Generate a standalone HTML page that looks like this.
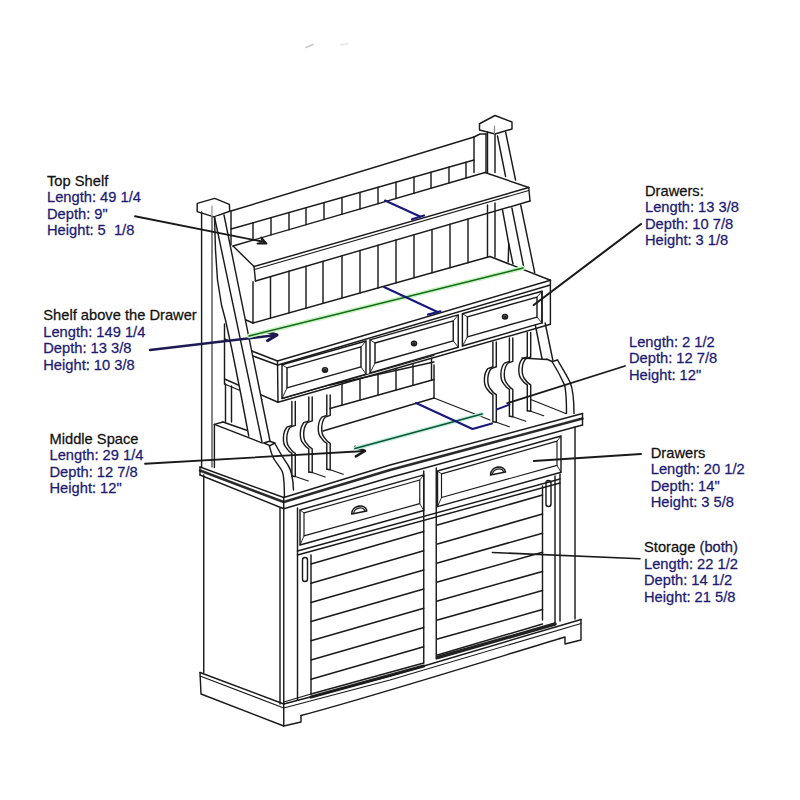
<!DOCTYPE html><html><head><meta charset="utf-8"><style>html,body{margin:0;padding:0;background:#fff;width:800px;height:800px;overflow:hidden}svg{display:block}text{font-family:"Liberation Sans",sans-serif;font-size:14px;white-space:pre}</style></head><body>
<svg width="800" height="800" viewBox="0 0 800 800"><rect width="800" height="800" fill="#fff"/>
<g fill="none" stroke-linecap="round" stroke-linejoin="round">
<polyline points="197.2,211.6 197.2,203.4 214.7,198.4 229.4,204.4 229.7,211.25 214,216.9 197.2,211.6" stroke="#1a1a1a" stroke-width="1.43"/>
<polyline points="212,206 212,217" stroke="#9a9a9a" stroke-width="1.3"/>
<polyline points="212,217 212,467" stroke="#555" stroke-width="1.43"/>
<polyline points="201.6,212 201.6,467" stroke="#1a1a1a" stroke-width="1.43"/>
<polyline points="224.5,324 224.5,384" stroke="#1a1a1a" stroke-width="1.43"/>
<polyline points="224.5,339 253,351.5" stroke="#1a1a1a" stroke-width="1.43"/>
<polyline points="224.5,379 278,402.25" stroke="#1a1a1a" stroke-width="1.43"/>
<polyline points="224.5,384 262,399.5" stroke="#1a1a1a" stroke-width="1.17"/>
<polyline points="225.5,384 225.5,422" stroke="#1a1a1a" stroke-width="1.43"/>
<polyline points="231.5,386 231.5,422" stroke="#1a1a1a" stroke-width="1.43"/>
<polyline points="214.4,424.4 223,422" stroke="#1a1a1a" stroke-width="1.43"/>
<polyline points="214.4,424.4 262.5,443" stroke="#1a1a1a" stroke-width="1.43"/>
<polyline points="223,422 248.75,431" stroke="#1a1a1a" stroke-width="1.43"/>
<polyline points="214.4,424.4 214.4,467.5" stroke="#1a1a1a" stroke-width="1.43"/>
<polyline points="231,211 474,137" stroke="#1a1a1a" stroke-width="1.43"/>
<polyline points="231,229 474,160" stroke="#1a1a1a" stroke-width="1.43"/>
<polyline points="231,211 231,245" stroke="#1a1a1a" stroke-width="1.43"/>
<polyline points="474,137 474,172.5" stroke="#1a1a1a" stroke-width="1.43"/>
<polyline points="486,134 486,172.5" stroke="#1a1a1a" stroke-width="1.43"/>
<polyline points="474,137 480,134 486,134" stroke="#1a1a1a" stroke-width="1.43"/>
<polyline points="253,222.75 253,240.17" stroke="#1a1a1a" stroke-width="1.43"/>
<polyline points="271,217.64 271,234.92" stroke="#1a1a1a" stroke-width="1.43"/>
<polyline points="289,212.53 289,229.67" stroke="#1a1a1a" stroke-width="1.43"/>
<polyline points="306,207.7 306,224.71" stroke="#1a1a1a" stroke-width="1.43"/>
<polyline points="324,202.59 324,219.46" stroke="#1a1a1a" stroke-width="1.43"/>
<polyline points="342,197.48 342,214.21" stroke="#1a1a1a" stroke-width="1.43"/>
<polyline points="360,192.37 360,208.96" stroke="#1a1a1a" stroke-width="1.43"/>
<polyline points="378,187.26 378,203.71" stroke="#1a1a1a" stroke-width="1.43"/>
<polyline points="396,182.15 396,198.46" stroke="#1a1a1a" stroke-width="1.43"/>
<polyline points="414,177.04 414,193.21" stroke="#1a1a1a" stroke-width="1.43"/>
<polyline points="431,172.21 431,188.25" stroke="#1a1a1a" stroke-width="1.43"/>
<polyline points="449,167.1 449,183" stroke="#1a1a1a" stroke-width="1.43"/>
<polyline points="466,162.27 466,178.04" stroke="#1a1a1a" stroke-width="1.43"/>
<polyline points="233,246 485,172.5" stroke="#1a1a1a" stroke-width="1.43"/>
<polyline points="233,246 254,266.5" stroke="#1a1a1a" stroke-width="1.43"/>
<polyline points="485,172.5 528.75,187.5" stroke="#1a1a1a" stroke-width="1.43"/>
<polyline points="254,266.5 528.75,187.5" stroke="#1a1a1a" stroke-width="1.43"/>
<polyline points="254.5,269.5 528.75,190.5" stroke="#1a1a1a" stroke-width="1.04"/>
<polyline points="255.5,281 530,201" stroke="#1a1a1a" stroke-width="1.43"/>
<polyline points="254,266.5 255.5,281" stroke="#1a1a1a" stroke-width="1.43"/>
<polyline points="528.75,187.5 530,201" stroke="#1a1a1a" stroke-width="1.43"/>
<polyline points="253,281.73 253,323" stroke="#1a1a1a" stroke-width="1.43"/>
<polyline points="270.5,276.63 270.5,318.09" stroke="#1a1a1a" stroke-width="1.43"/>
<polyline points="289,271.24 289,312.9" stroke="#1a1a1a" stroke-width="1.43"/>
<polyline points="306,266.28 306,308.13" stroke="#1a1a1a" stroke-width="1.43"/>
<polyline points="323,261.33 323,303.36" stroke="#1a1a1a" stroke-width="1.43"/>
<polyline points="342,255.79 342,298.03" stroke="#1a1a1a" stroke-width="1.43"/>
<polyline points="360,250.54 360,292.98" stroke="#1a1a1a" stroke-width="1.43"/>
<polyline points="378,245.3 378,287.93" stroke="#1a1a1a" stroke-width="1.43"/>
<polyline points="396,240.05 396,282.88" stroke="#1a1a1a" stroke-width="1.43"/>
<polyline points="414,234.81 414,277.82" stroke="#1a1a1a" stroke-width="1.43"/>
<polyline points="432,229.56 432,272.77" stroke="#1a1a1a" stroke-width="1.43"/>
<polyline points="450,224.32 450,267.72" stroke="#1a1a1a" stroke-width="1.43"/>
<polyline points="468,219.07 468,262.67" stroke="#1a1a1a" stroke-width="1.43"/>
<polyline points="246,320 253,323" stroke="#1a1a1a" stroke-width="1.43"/>
<polyline points="479.5,130 479.5,123.75 495,115.5 512,122 512,129 495,134 479.5,130" stroke="#1a1a1a" stroke-width="1.43"/>
<polyline points="487.5,132 487.5,172.5" stroke="#1a1a1a" stroke-width="1.43"/>
<polyline points="495,134 495,172.5" stroke="#1a1a1a" stroke-width="1.43"/>
<polyline points="487.5,205 487.5,257" stroke="#1a1a1a" stroke-width="1.43"/>
<polyline points="495,203 495,257" stroke="#1a1a1a" stroke-width="1.43"/>
<polyline points="497.5,136 505.6,176.5" stroke="#1a1a1a" stroke-width="1.43"/>
<polyline points="505.6,132 515.54,180" stroke="#1a1a1a" stroke-width="1.43"/>
<polyline points="511.9,208 523.8,267.5" stroke="#1a1a1a" stroke-width="1.43"/>
<polyline points="520.71,205 534.68,272.5" stroke="#1a1a1a" stroke-width="1.43"/>
<polyline points="502.5,210 508.75,243.75 513,264" stroke="#1a1a1a" stroke-width="1.43"/>
<polyline points="508.75,243.75 508.2,262" stroke="#1a1a1a" stroke-width="1.43"/>
<polyline points="494.5,126 494.5,134" stroke="#888" stroke-width="1.17"/>
<polyline points="253,323 490,256.5" stroke="#1a1a1a" stroke-width="1.43"/>
<polyline points="490,256.5 550.4,280.25" stroke="#1a1a1a" stroke-width="1.43"/>
<polyline points="253,351.5 277.5,361" stroke="#1a1a1a" stroke-width="1.43"/>
<polyline points="277.5,361 550.4,280.25" stroke="#1a1a1a" stroke-width="1.43"/>
<polyline points="278,365 550.4,285" stroke="#1a1a1a" stroke-width="1.43"/>
<polyline points="253,356 277.5,365" stroke="#1a1a1a" stroke-width="1.43"/>
<polyline points="550.4,280.25 550.4,324.25" stroke="#1a1a1a" stroke-width="1.43"/>
<polyline points="282,364.75 366,341 366,374.08 282,398.5 282,364.75" stroke="#1a1a1a" stroke-width="1.43"/>
<polyline points="287,367.84 361,346.92 361,366.92 287,387.84 287,367.84" stroke="#1a1a1a" stroke-width="1.43"/>
<polyline points="282,364.75 287,367.84" stroke="#1a1a1a" stroke-width="0.91"/>
<polyline points="366,341 361,346.92" stroke="#1a1a1a" stroke-width="0.91"/>
<polyline points="282,398.5 287,387.84" stroke="#1a1a1a" stroke-width="0.91"/>
<polyline points="366,374.08 361,366.92" stroke="#1a1a1a" stroke-width="0.91"/>
<polyline points="370,339.87 458.25,314.93 458.25,347.25 370,372.91 370,339.87" stroke="#1a1a1a" stroke-width="1.43"/>
<polyline points="375,342.96 453.25,320.84 453.25,340.84 375,362.96 375,342.96" stroke="#1a1a1a" stroke-width="1.43"/>
<polyline points="370,339.87 375,342.96" stroke="#1a1a1a" stroke-width="0.91"/>
<polyline points="458.25,314.93 453.25,320.84" stroke="#1a1a1a" stroke-width="0.91"/>
<polyline points="370,372.91 375,362.96" stroke="#1a1a1a" stroke-width="0.91"/>
<polyline points="458.25,347.25 453.25,340.84" stroke="#1a1a1a" stroke-width="0.91"/>
<polyline points="462.4,313.75 542,291.25 542,322.9 462.4,346.05 462.4,313.75" stroke="#1a1a1a" stroke-width="1.43"/>
<polyline points="467.4,316.84 537,297.16 537,317.16 467.4,336.84 467.4,316.84" stroke="#1a1a1a" stroke-width="1.43"/>
<polyline points="462.4,313.75 467.4,316.84" stroke="#1a1a1a" stroke-width="0.91"/>
<polyline points="542,291.25 537,297.16" stroke="#1a1a1a" stroke-width="0.91"/>
<polyline points="462.4,346.05 467.4,336.84" stroke="#1a1a1a" stroke-width="0.91"/>
<polyline points="542,322.9 537,317.16" stroke="#1a1a1a" stroke-width="0.91"/>
<polyline points="278,402.25 550.4,324.25" stroke="#1a1a1a" stroke-width="1.43"/>
<polyline points="277.5,361 278,402.25" stroke="#1a1a1a" stroke-width="1.43"/>
<polyline points="542,291.25 542,323" stroke="#1a1a1a" stroke-width="1.43"/>
<path d="M322.5,370 a2.5,2.2 0 1,0 5,0 a2.5,2.2 0 1,0 -5,0" stroke="#1a1a1a" stroke-width="1.56" fill="none"/>
<path d="M323.7,370.3 a1.3,1.2 0 1,0 2.6,0 a1.3,1.2 0 1,0 -2.6,0" stroke="#1a1a1a" stroke-width="1.04" fill="#333"/>
<path d="M411.5,343.5 a2.5,2.2 0 1,0 5,0 a2.5,2.2 0 1,0 -5,0" stroke="#1a1a1a" stroke-width="1.56" fill="none"/>
<path d="M412.7,343.8 a1.3,1.2 0 1,0 2.6,0 a1.3,1.2 0 1,0 -2.6,0" stroke="#1a1a1a" stroke-width="1.04" fill="#333"/>
<path d="M502.5,316.8 a2.5,2.2 0 1,0 5,0 a2.5,2.2 0 1,0 -5,0" stroke="#1a1a1a" stroke-width="1.56" fill="none"/>
<path d="M503.7,317.1 a1.3,1.2 0 1,0 2.6,0 a1.3,1.2 0 1,0 -2.6,0" stroke="#1a1a1a" stroke-width="1.04" fill="#333"/>
<path d="M291.9,401.5 L291.9,425.4 L286.9,427.2 C282.4,432.4 282.4,443.4 285.9,447.4 C287.9,450.4 289.9,452.4 291.9,453.4 L291.9,476" stroke="#1a1a1a" stroke-width="1.43" fill="none"/>
<path d="M295.29999999999995,401.5 L295.29999999999995,425.4 L290.29999999999995,427.2 C285.79999999999995,432.4 285.79999999999995,443.4 289.29999999999995,447.4 C291.29999999999995,450.4 293.29999999999995,452.4 295.29999999999995,453.4 L295.29999999999995,476" stroke="#1a1a1a" stroke-width="1.43" fill="none"/>
<polyline points="291.9,476 295.3,476.5" stroke="#1a1a1a" stroke-width="1.43"/>
<polyline points="295.3,476.5 308.3,481" stroke="#1a1a1a" stroke-width="1.17"/>
<path d="M308.8,397 L308.8,420.9 L303.8,422.7 C299.3,427.9 299.3,438.9 302.8,442.9 C304.8,445.9 306.8,447.9 308.8,448.9 L308.8,472" stroke="#1a1a1a" stroke-width="1.43" fill="none"/>
<path d="M312.2,397 L312.2,420.9 L307.2,422.7 C302.7,427.9 302.7,438.9 306.2,442.9 C308.2,445.9 310.2,447.9 312.2,448.9 L312.2,472" stroke="#1a1a1a" stroke-width="1.43" fill="none"/>
<polyline points="308.8,472 312.2,472.5" stroke="#1a1a1a" stroke-width="1.43"/>
<polyline points="312.2,472.5 325.2,477" stroke="#1a1a1a" stroke-width="1.17"/>
<path d="M326.8,395 L326.8,415.3 L321.8,417.1 C317.3,422.3 317.3,433.3 320.8,437.3 C322.8,440.3 324.8,442.3 326.8,443.3 L326.8,469.3" stroke="#1a1a1a" stroke-width="1.43" fill="none"/>
<path d="M330.2,395 L330.2,415.3 L325.2,417.1 C320.7,422.3 320.7,433.3 324.2,437.3 C326.2,440.3 328.2,442.3 330.2,443.3 L330.2,469.3" stroke="#1a1a1a" stroke-width="1.43" fill="none"/>
<polyline points="326.8,469.3 330.2,469.8" stroke="#1a1a1a" stroke-width="1.43"/>
<polyline points="330.2,469.8 343.2,474.3" stroke="#1a1a1a" stroke-width="1.17"/>
<path d="M492.9,342 L492.9,366.75 L487.9,368.55 C483.4,373.75 483.4,384.75 486.9,388.75 C488.9,391.75 490.9,393.75 492.9,394.75 L492.9,421.8" stroke="#1a1a1a" stroke-width="1.43" fill="none"/>
<path d="M496.29999999999995,342 L496.29999999999995,366.75 L491.29999999999995,368.55 C486.79999999999995,373.75 486.79999999999995,384.75 490.29999999999995,388.75 C492.29999999999995,391.75 494.29999999999995,393.75 496.29999999999995,394.75 L496.29999999999995,421.8" stroke="#1a1a1a" stroke-width="1.43" fill="none"/>
<polyline points="492.9,421.8 496.3,422.3" stroke="#1a1a1a" stroke-width="1.43"/>
<polyline points="496.3,422.3 509.3,426.8" stroke="#1a1a1a" stroke-width="1.17"/>
<path d="M509.4,338 L509.4,361.3 L504.4,363.1 C499.9,368.3 499.9,379.3 503.4,383.3 C505.4,386.3 507.4,388.3 509.4,389.3 L509.4,416.3" stroke="#1a1a1a" stroke-width="1.43" fill="none"/>
<path d="M512.8,338 L512.8,361.3 L507.79999999999995,363.1 C503.29999999999995,368.3 503.29999999999995,379.3 506.79999999999995,383.3 C508.79999999999995,386.3 510.79999999999995,388.3 512.8,389.3 L512.8,416.3" stroke="#1a1a1a" stroke-width="1.43" fill="none"/>
<polyline points="509.4,416.3 512.8,416.8" stroke="#1a1a1a" stroke-width="1.43"/>
<polyline points="512.8,416.8 525.8,421.3" stroke="#1a1a1a" stroke-width="1.17"/>
<path d="M527.3,332.4 L527.3,357 L522.3,358.8 C517.8,364 517.8,375 521.3,379 C523.3,382 525.3,384 527.3,385 L527.3,410.8" stroke="#1a1a1a" stroke-width="1.43" fill="none"/>
<path d="M530.6999999999999,332.4 L530.6999999999999,357 L525.6999999999999,358.8 C521.1999999999999,364 521.1999999999999,375 524.6999999999999,379 C526.6999999999999,382 528.6999999999999,384 530.6999999999999,385 L530.6999999999999,410.8" stroke="#1a1a1a" stroke-width="1.43" fill="none"/>
<polyline points="527.3,410.8 530.7,411.3" stroke="#1a1a1a" stroke-width="1.43"/>
<polyline points="530.7,411.3 543.7,415.8" stroke="#1a1a1a" stroke-width="1.17"/>
<polyline points="522,358 546.5,359.5" stroke="#1a1a1a" stroke-width="1.43"/>
<polyline points="535.3,325 542.1,359" stroke="#1a1a1a" stroke-width="1.43"/>
<polyline points="545.14,323 552.8,360" stroke="#1a1a1a" stroke-width="1.43"/>
<polyline points="546.5,359 552,361.5 557.5,360" stroke="#1a1a1a" stroke-width="1.43"/>
<path d="M557.5,360 C561,366 566,374 570,382 C573,389 574,396 574,413.5" stroke="#1a1a1a" stroke-width="1.43" fill="none"/>
<path d="M552,361.5 C556,368 561,377 564.4,384.6 C566,390 566.5,396 566.5,413.5" stroke="#1a1a1a" stroke-width="1.43" fill="none"/>
<polyline points="531.4,399.8 565.8,413.5" stroke="#1a1a1a" stroke-width="1.17"/>
<polyline points="282,398.5 434,355.5" stroke="#1a1a1a" stroke-width="1.17"/>
<polyline points="330,385 434,362" stroke="#1a1a1a" stroke-width="1.43"/>
<polyline points="342,383.92 342,405.15" stroke="#1a1a1a" stroke-width="1.43"/>
<polyline points="360,378.77 360,400.13" stroke="#1a1a1a" stroke-width="1.43"/>
<polyline points="378,373.62 378,395.12" stroke="#1a1a1a" stroke-width="1.43"/>
<polyline points="396,368.46 396,390.1" stroke="#1a1a1a" stroke-width="1.43"/>
<polyline points="413,363.59 413,385.36" stroke="#1a1a1a" stroke-width="1.43"/>
<polyline points="431.5,358.3 431.5,380.2" stroke="#1a1a1a" stroke-width="1.43"/>
<polyline points="330,408.5 434,379.5" stroke="#1a1a1a" stroke-width="1.43"/>
<polyline points="323,431 434,398" stroke="#1a1a1a" stroke-width="1.43"/>
<polyline points="434,365 434,398" stroke="#1a1a1a" stroke-width="1.43"/>
<polyline points="434,398 490,420" stroke="#1a1a1a" stroke-width="1.17"/>
<polyline points="200,467 283.75,497.5 390,465 582.5,413.5" stroke="#1a1a1a" stroke-width="1.43"/>
<polyline points="200,470.5 283.75,502 390,470 582.5,418.5" stroke="#2a2a2a" stroke-width="2.47"/>
<polyline points="200,475 283.75,508.75 390,477.5 582.5,425" stroke="#1a1a1a" stroke-width="1.43"/>
<polyline points="200,467 200,475" stroke="#1a1a1a" stroke-width="1.43"/>
<polyline points="283.75,497.5 283.75,508.75" stroke="#1a1a1a" stroke-width="1.43"/>
<polyline points="582.5,413.5 582.5,425" stroke="#1a1a1a" stroke-width="1.43"/>
<polyline points="203.75,475 203.75,672.5" stroke="#1a1a1a" stroke-width="1.43"/>
<polyline points="280,508 280,704" stroke="#1a1a1a" stroke-width="1.43"/>
<polyline points="283.75,508.75 283.75,704" stroke="#1a1a1a" stroke-width="1.43"/>
<polyline points="297.5,508 297.5,700" stroke="#1a1a1a" stroke-width="1.43"/>
<polyline points="555,476 555,622.5" stroke="#1a1a1a" stroke-width="1.43"/>
<polyline points="560,474 560,621" stroke="#1a1a1a" stroke-width="1.43"/>
<polyline points="575,427 575,619" stroke="#1a1a1a" stroke-width="1.43"/>
<polyline points="300,510 423.75,474.92 423.75,510.49 300,545 300,510" stroke="#1a1a1a" stroke-width="1.43"/>
<polyline points="304,512.87 419.75,480.05 419.75,503.61 304,535.88 304,512.87" stroke="#1a1a1a" stroke-width="1.17"/>
<polyline points="300,510 304,512.87" stroke="#1a1a1a" stroke-width="0.91"/>
<polyline points="423.75,474.92 419.75,480.05" stroke="#1a1a1a" stroke-width="0.91"/>
<polyline points="300,545 304,535.88" stroke="#1a1a1a" stroke-width="0.91"/>
<polyline points="423.75,510.49 419.75,503.61" stroke="#1a1a1a" stroke-width="0.91"/>
<polyline points="437.5,471.02 561,436.01 561,472.22 437.5,506.66 437.5,471.02" stroke="#1a1a1a" stroke-width="1.43"/>
<polyline points="441.5,473.89 557,441.14 557,465.34 441.5,497.54 441.5,473.89" stroke="#1a1a1a" stroke-width="1.17"/>
<polyline points="437.5,471.02 441.5,473.89" stroke="#1a1a1a" stroke-width="0.91"/>
<polyline points="561,436.01 557,441.14" stroke="#1a1a1a" stroke-width="0.91"/>
<polyline points="437.5,506.66 441.5,497.54" stroke="#1a1a1a" stroke-width="0.91"/>
<polyline points="561,472.22 557,465.34" stroke="#1a1a1a" stroke-width="0.91"/>
<path d="M351.75,514 C351.75,505 365.75,503 366.75,511 L351.75,514 Z" stroke="#1a1a1a" stroke-width="1.56" fill="none"/>
<path d="M353.75,512.5 C354.75,508 362.75,506 364.75,510.5" stroke="#1a1a1a" stroke-width="1.17" fill="none"/>
<path d="M490.5,475 C490.5,466 504.5,464 505.5,472 L490.5,475 Z" stroke="#1a1a1a" stroke-width="1.56" fill="none"/>
<path d="M492.5,473.5 C493.5,469 501.5,467 503.5,471.5" stroke="#1a1a1a" stroke-width="1.17" fill="none"/>
<polyline points="297.5,551 560,479" stroke="#1a1a1a" stroke-width="1.43"/>
<polyline points="297.5,555 560,483" stroke="#1a1a1a" stroke-width="1.43"/>
<polyline points="423.75,471 423.75,663" stroke="#1a1a1a" stroke-width="1.43"/>
<polyline points="436.25,468 436.25,659" stroke="#1a1a1a" stroke-width="1.43"/>
<polyline points="311,555 311,694" stroke="#1a1a1a" stroke-width="1.43"/>
<polyline points="311,564 423.75,531.5" stroke="#1a1a1a" stroke-width="1.56"/>
<polyline points="311,583.2 423.75,550.7" stroke="#1a1a1a" stroke-width="1.56"/>
<polyline points="311,602.4 423.75,569.9" stroke="#1a1a1a" stroke-width="1.56"/>
<polyline points="311,621.6 423.75,589.1" stroke="#1a1a1a" stroke-width="1.56"/>
<polyline points="311,640.8 423.75,608.3" stroke="#1a1a1a" stroke-width="1.56"/>
<polyline points="311,660 423.75,627.5" stroke="#1a1a1a" stroke-width="1.56"/>
<polyline points="311,679.2 423.75,646.7" stroke="#1a1a1a" stroke-width="1.56"/>
<polyline points="311,694 423.75,663" stroke="#1a1a1a" stroke-width="1.43"/>
<path d="M302.5,560 a2.5,2.5 0 0,1 5,0 L307.5,579 a2.5,2.5 0 0,1 -5,0 Z" stroke="#1a1a1a" stroke-width="1.43" fill="none"/>
<polyline points="437.5,525 542.5,495" stroke="#1a1a1a" stroke-width="1.56"/>
<polyline points="437.5,544 542.5,514.1" stroke="#1a1a1a" stroke-width="1.56"/>
<polyline points="437.5,563 542.5,533.2" stroke="#1a1a1a" stroke-width="1.56"/>
<polyline points="437.5,582 542.5,552.3" stroke="#1a1a1a" stroke-width="1.56"/>
<polyline points="437.5,601 542.5,571.4" stroke="#1a1a1a" stroke-width="1.56"/>
<polyline points="437.5,620 542.5,590.5" stroke="#1a1a1a" stroke-width="1.56"/>
<polyline points="437.5,639 542.5,609.6" stroke="#1a1a1a" stroke-width="1.56"/>
<polyline points="542.5,486 542.5,620" stroke="#1a1a1a" stroke-width="1.43"/>
<polyline points="437.5,655 542.5,624" stroke="#1a1a1a" stroke-width="1.43"/>
<path d="M546,483 a2.5,2.5 0 0,1 5,0 L551,504 a2.5,2.5 0 0,1 -5,0 Z" stroke="#1a1a1a" stroke-width="1.43" fill="none"/>
<polyline points="311,697 423.75,666" stroke="#222" stroke-width="3.12"/>
<polyline points="437.5,657.5 555,624" stroke="#222" stroke-width="3.38"/>
<polyline points="200,672.5 283.75,704 390,676 581,619.5" stroke="#1a1a1a" stroke-width="1.43"/>
<polyline points="311,694 283.75,702" stroke="#1a1a1a" stroke-width="1.17"/>
<polyline points="200,672.5 201,694 283.75,726 283.75,704" stroke="#1a1a1a" stroke-width="1.43"/>
<polyline points="200,676 283.75,708 390,680 581,623.5" stroke="#1a1a1a" stroke-width="1.17"/>
<polyline points="283.75,726 301,722 301,715.5" stroke="#1a1a1a" stroke-width="1.43"/>
<path d="M301,715.5 C360,700 450,672 560,638.5" stroke="#1a1a1a" stroke-width="1.43" fill="none"/>
<polyline points="560,638.5 565,637 565,644 581,640 581,619.5" stroke="#1a1a1a" stroke-width="1.43"/>
<polygon points="214.5,217 215.5,250 217.5,280 221.5,305 225.5,320 232,350 241,395 248.75,436 263.75,443 270,445.6 275,443 270,441 224,215" fill="#fff" stroke="none"/>
<polyline points="214.5,217 262,442" stroke="#1a1a1a" stroke-width="1.43"/>
<polyline points="224,215 270,441" stroke="#1a1a1a" stroke-width="1.43"/>
<polyline points="214.5,217 215.5,250 217.5,280 221.5,305 225.5,320 232,350 241,395 248.75,436" stroke="#1a1a1a" stroke-width="1.43"/>
<polyline points="263.75,443 269.4,441.25 275,443 270,445.6 263.75,443" stroke="#1a1a1a" stroke-width="1.43"/>
<path d="M269.4,446 C271,452 272,456 274,459 C277,464 280,467 282,471 C283.5,474 284.4,480 284.4,497" stroke="#1a1a1a" stroke-width="1.43" fill="none"/>
<path d="M275,443.75 C277,447 278.5,450 280,452.5 C283,458 286,462 288.5,466 C291.5,471 293,476 293.5,490" stroke="#1a1a1a" stroke-width="1.43" fill="none"/>
<polyline points="135,216.25 262,241.5" stroke="#1a1a1a" stroke-width="1.82"/>
<polyline points="257.5,243.6 266.5,243.6 261.3,237.6" stroke="#1a1a1a" stroke-width="1.95"/>
<polyline points="259,243 265,243 261.5,239.5" stroke="#1a1a1a" stroke-width="1.56"/>
<polyline points="150,350 277,335" stroke="#1c1a50" stroke-width="2.34"/>
<polyline points="267.6,340.64 277,335 266.54,331.7" stroke="#1c1a50" stroke-width="2.99"/>
<polyline points="145,463.75 365,451" stroke="#1a1a1a" stroke-width="1.82"/>
<polyline points="355.79,456.34 365,451 355.24,446.76" stroke="#1a1a1a" stroke-width="2.47"/>
<polyline points="641,224 533.75,305" stroke="#1a1a1a" stroke-width="2.08"/>
<polyline points="625,366 507.3,403.2" stroke="#1a1a1a" stroke-width="1.82"/>
<polyline points="641,454 533.75,461" stroke="#1a1a1a" stroke-width="1.82"/>
<polyline points="640,558.75 492.5,552.5" stroke="#1a1a1a" stroke-width="1.69"/>
<polyline points="249,336 523,268" stroke="#c4f4bc" stroke-width="4.42"/>
<polyline points="249,336 523,268" stroke="#14641e" stroke-width="1.56"/>
<polyline points="355,448.5 482,414" stroke="#c4eee0" stroke-width="4.16"/>
<polyline points="355,448.5 482,414" stroke="#0b5636" stroke-width="1.76"/>
<polyline points="385,200.5 420,216.5" stroke="#18187a" stroke-width="2.08"/>
<polyline points="412,219.3 424,215.5" stroke="#18187a" stroke-width="2.21"/>
<polyline points="384,287 437.6,312" stroke="#18187a" stroke-width="2.08"/>
<polyline points="428,314.6 440.4,311.3" stroke="#18187a" stroke-width="2.21"/>
<polyline points="416,403 472.5,429 492,423.5" stroke="#18187a" stroke-width="2.08"/>
<polyline points="497,409.4 509.4,404.6" stroke="#18187a" stroke-width="2.08"/>
<polyline points="306,47.5 313,44.5" stroke="#c8c8c8" stroke-width="1.56"/>
<polyline points="341,45 348,43.5" stroke="#ececec" stroke-width="1.95"/>
</g>
<text x="0" y="0" transform="translate(47,185.85) scale(1.05,1)" fill="#111" stroke="#111" stroke-width="0.25">Top Shelf</text>
<text x="0" y="0" transform="translate(47,202.35) scale(1.05,1)" fill="#1c1a72" stroke="#1c1a72" stroke-width="0.25">Length: 49 1/4</text>
<text x="0" y="0" transform="translate(47,218.85) scale(1.05,1)" fill="#1c1a72" stroke="#1c1a72" stroke-width="0.25">Depth: 9"</text>
<text x="0" y="0" transform="translate(47,235.35) scale(1.05,1)" fill="#1c1a72" stroke="#1c1a72" stroke-width="0.25">Height: 5  1/8</text>
<text x="0" y="0" transform="translate(43.25,320.1) scale(1.05,1)" fill="#111" stroke="#111" stroke-width="0.25">Shelf above the Drawer</text>
<text x="0" y="0" transform="translate(43.25,336.6) scale(1.05,1)" fill="#1c1a72" stroke="#1c1a72" stroke-width="0.25">Length: 149 1/4</text>
<text x="0" y="0" transform="translate(43.25,353.1) scale(1.05,1)" fill="#1c1a72" stroke="#1c1a72" stroke-width="0.25">Depth: 13 3/8</text>
<text x="0" y="0" transform="translate(43.25,369.6) scale(1.05,1)" fill="#1c1a72" stroke="#1c1a72" stroke-width="0.25">Height: 10 3/8</text>
<text x="0" y="0" transform="translate(49.5,443.85) scale(1.05,1)" fill="#111" stroke="#111" stroke-width="0.25">Middle Space</text>
<text x="0" y="0" transform="translate(49.5,460.35) scale(1.05,1)" fill="#1c1a72" stroke="#1c1a72" stroke-width="0.25">Length: 29 1/4</text>
<text x="0" y="0" transform="translate(49.5,476.85) scale(1.05,1)" fill="#1c1a72" stroke="#1c1a72" stroke-width="0.25">Depth: 12 7/8</text>
<text x="0" y="0" transform="translate(49.5,493.35) scale(1.05,1)" fill="#1c1a72" stroke="#1c1a72" stroke-width="0.25">Height: 12"</text>
<text x="0" y="0" transform="translate(645,195.85) scale(1.05,1)" fill="#111" stroke="#111" stroke-width="0.25">Drawers:</text>
<text x="0" y="0" transform="translate(645,212.35) scale(1.05,1)" fill="#1c1a72" stroke="#1c1a72" stroke-width="0.25">Length: 13 3/8</text>
<text x="0" y="0" transform="translate(645,228.85) scale(1.05,1)" fill="#1c1a72" stroke="#1c1a72" stroke-width="0.25">Depth: 10 7/8</text>
<text x="0" y="0" transform="translate(645,245.35) scale(1.05,1)" fill="#1c1a72" stroke="#1c1a72" stroke-width="0.25">Height: 3 1/8</text>
<text x="0" y="0" transform="translate(629,346.6) scale(1.05,1)" fill="#1c1a72" stroke="#1c1a72" stroke-width="0.25">Length: 2 1/2</text>
<text x="0" y="0" transform="translate(629,363.1) scale(1.05,1)" fill="#1c1a72" stroke="#1c1a72" stroke-width="0.25">Depth: 12 7/8</text>
<text x="0" y="0" transform="translate(629,379.6) scale(1.05,1)" fill="#1c1a72" stroke="#1c1a72" stroke-width="0.25">Height: 12"</text>
<text x="0" y="0" transform="translate(650.75,457.6) scale(1.05,1)" fill="#111" stroke="#111" stroke-width="0.25">Drawers</text>
<text x="0" y="0" transform="translate(650.75,474.1) scale(1.05,1)" fill="#1c1a72" stroke="#1c1a72" stroke-width="0.25">Length: 20 1/2</text>
<text x="0" y="0" transform="translate(650.75,490.6) scale(1.05,1)" fill="#1c1a72" stroke="#1c1a72" stroke-width="0.25">Depth: 14"</text>
<text x="0" y="0" transform="translate(650.75,507.1) scale(1.05,1)" fill="#1c1a72" stroke="#1c1a72" stroke-width="0.25">Height: 3 5/8</text>
<text x="0" y="0" transform="translate(644,552.1) scale(1.05,1)" fill="#111" stroke="#111" stroke-width="0.25">Storage <tspan fill="#1c1a72">(both)</tspan></text>
<text x="0" y="0" transform="translate(644,568.6) scale(1.05,1)" fill="#1c1a72" stroke="#1c1a72" stroke-width="0.25">Length: 22 1/2</text>
<text x="0" y="0" transform="translate(644,585.1) scale(1.05,1)" fill="#1c1a72" stroke="#1c1a72" stroke-width="0.25">Depth: 14 1/2</text>
<text x="0" y="0" transform="translate(644,601.6) scale(1.05,1)" fill="#1c1a72" stroke="#1c1a72" stroke-width="0.25">Height: 21 5/8</text>
</svg></body></html>
